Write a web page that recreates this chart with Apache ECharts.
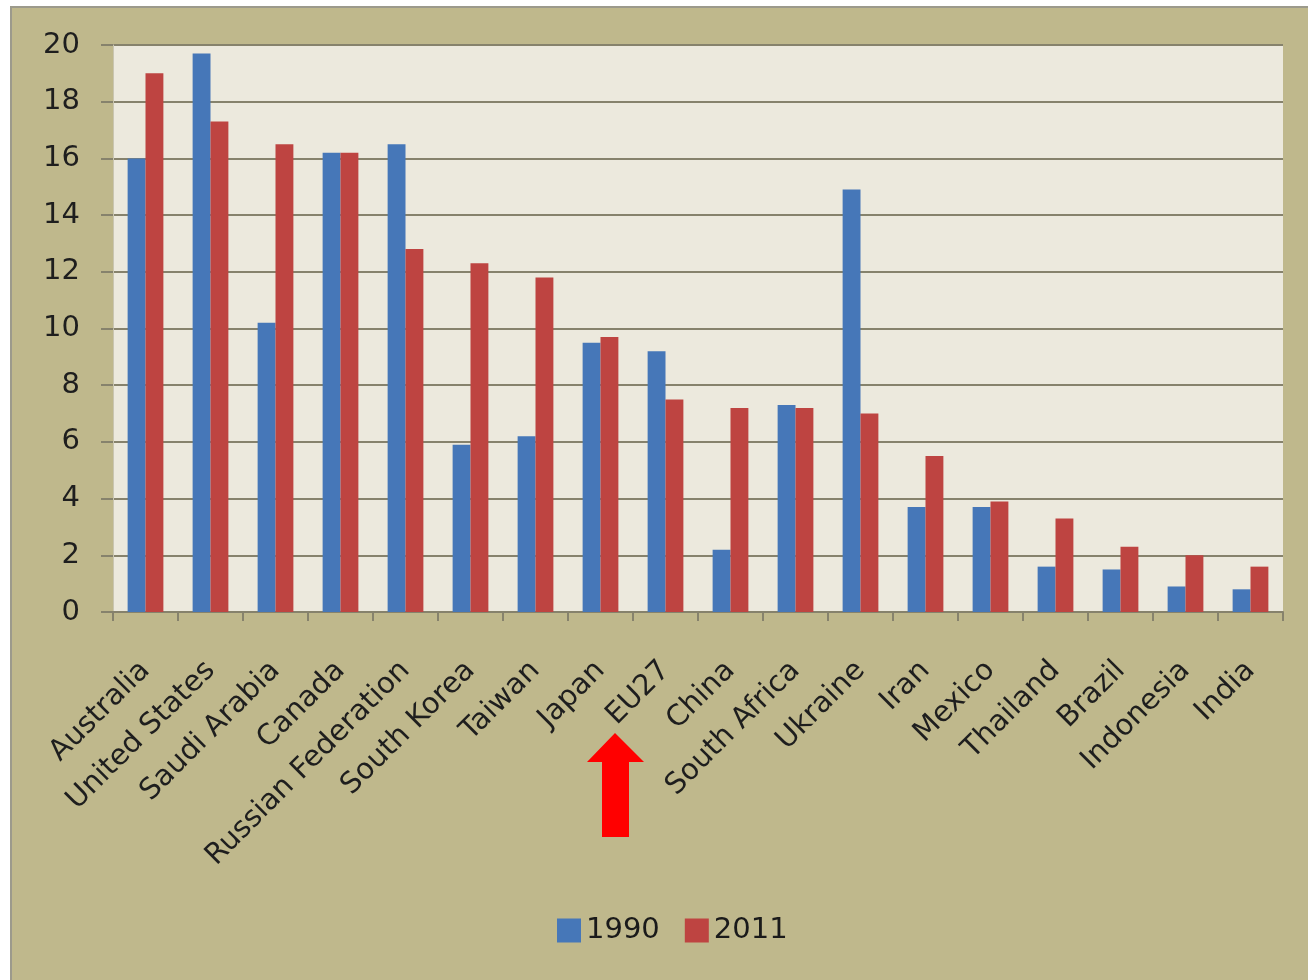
<!DOCTYPE html>
<html>
<head>
<meta charset="utf-8">
<script src="https://cdn.jsdelivr.net/npm/echarts@6/dist/echarts.min.js"></script>
<style>
html,body{margin:0;padding:0;background:#ffffff;}
#frame{position:absolute;left:10px;top:6px;width:1298px;height:974px;background:#BFB88C;border-left:2px solid #9C9A8C;border-top:2px solid #9C9A8C;box-sizing:border-box;}
#chart{position:absolute;left:0;top:0;width:1308px;height:980px;}
</style>
</head>
<body>
<div id="frame"></div>
<div id="chart"></div>
<script>
const categories = ["Australia","United States","Saudi Arabia","Canada","Russian Federation","South Korea","Taiwan","Japan","EU27","China","South Africa","Ukraine","Iran","Mexico","Thailand","Brazil","Indonesia","India"];
const values1990 = [16.0,19.7,10.2,16.2,16.5,5.9,6.2,9.5,9.2,2.2,7.3,14.9,3.7,3.7,1.6,1.5,0.9,0.8];
const values2011 = [19.0,17.3,16.5,16.2,12.8,12.3,11.8,9.7,7.5,7.2,7.2,7.0,5.5,3.9,3.3,2.3,2.0,1.6];
const seriesNames = ["1990","2011"];
const yTicks = {min:0,max:20,interval:2};

const chart = echarts.init(document.getElementById('chart'), null, {renderer:'canvas'});
const gridCol = '#86826C';
const font = '"DejaVu Sans", sans-serif';
chart.setOption({
  backgroundColor: 'transparent',
  animation: false,
  grid: {left:113, right:25, top:45, bottom:368, show:true, backgroundColor:'#ECE9DD', borderWidth:0},
  legend: {
    data: seriesNames, top: 911, left: 552,
    itemWidth: 24, itemHeight: 24, itemGap: 25, icon: 'rect',
    textStyle: {fontFamily: font, fontSize: 29, color: '#1a1a1a'}
  },
  xAxis: {
    type: 'category', data: categories,
    axisLine: {show:true, lineStyle:{color:gridCol, width:2}},
    axisTick: {show:true, length:9, alignWithLabel:false, lineStyle:{color:gridCol, width:2}},
    axisLabel: {rotate:45, interval:0, fontFamily: font, fontSize: 29, color:'#1e1e1e', margin:54}
  },
  yAxis: {
    type: 'value', min: yTicks.min, max: yTicks.max, interval: yTicks.interval,
    axisLine: {show:true, lineStyle:{color:'#C9C5B0', width:1}},
    axisTick: {show:true, length:12, lineStyle:{color:gridCol, width:2}},
    axisLabel: {fontFamily: font, fontSize: 29, color:'#1e1e1e', margin:33},
    splitLine: {show:true, lineStyle:{color:gridCol, width:2}}
  },
  series: [
    {name: seriesNames[0], type:'bar', data: values1990, barGap:'0%', barCategoryGap:'45%', itemStyle:{color:'#4677B8'}},
    {name: seriesNames[1], type:'bar', data: values2011, barGap:'0%', barCategoryGap:'45%', itemStyle:{color:'#BE4441'}}
  ],
  graphic: [
    {type:'polygon', z:100, shape:{points:[[615,733],[644,762],[629,762],[629,837],[602,837],[602,762],[587,762]]}, style:{fill:'#FF0000'}}
  ]
});
</script>
</body>
</html>
